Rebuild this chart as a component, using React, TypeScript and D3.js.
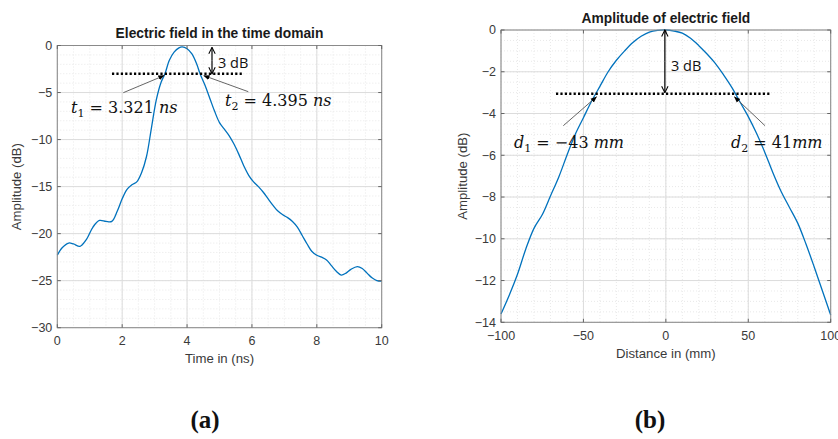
import React from 'react';
import * as d3 from 'd3';

// ---- Panel (a): electric field in the time domain ----
const timeNs = [0.0, 0.15, 0.35, 0.5, 0.7, 0.9, 1.1, 1.3, 1.5, 1.68, 1.85, 2.0, 2.15, 2.3, 2.45, 2.6, 2.75, 2.9, 3.05, 3.2, 3.32, 3.45, 3.6, 3.75, 3.85, 4.0, 4.15, 4.3, 4.4, 4.55, 4.7, 4.85, 5.0, 5.15, 5.3, 5.45, 5.6, 5.75, 5.9, 6.05, 6.2, 6.35, 6.5, 6.65, 6.8, 6.95, 7.1, 7.25, 7.4, 7.55, 7.7, 7.85, 8.0, 8.15, 8.3, 8.45, 8.6, 8.75, 8.9, 9.05, 9.25, 9.4, 9.55, 9.7, 9.85, 10.0];
const timeDb = [-22.3, -21.5, -21.0, -21.1, -21.35, -20.6, -19.3, -18.6, -18.7, -18.7, -17.6, -16.3, -15.3, -14.8, -14.5, -13.5, -11.8, -8.8, -5.8, -3.9, -3.0, -1.6, -0.7, -0.25, -0.15, -0.35, -0.9, -2.0, -3.0, -4.2, -5.6, -7.0, -8.2, -8.9, -9.6, -10.5, -11.6, -12.8, -13.8, -14.5, -15.0, -15.6, -16.3, -17.0, -17.6, -18.0, -18.3, -18.7, -19.3, -20.2, -21.1, -21.9, -22.3, -22.5, -22.8, -23.4, -24.0, -24.4, -24.2, -23.8, -23.5, -23.7, -24.2, -24.7, -25.0, -25.05];
const timeTicks = [0, 2, 4, 6, 8, 10];
const timeDbTicks = [0, -5, -10, -15, -20, -25, -30];
const t1 = 3.321;
const t2 = 4.395;

// ---- Panel (b): amplitude of electric field vs distance ----
const distMm = [-100, -95, -90, -85, -80, -75, -70, -65, -60, -55, -50, -45, -40, -35, -30, -25, -20, -15, -10, -5, 0, 5, 10, 15, 20, 25, 30, 35, 40, 45, 50, 55, 60, 65, 70, 75, 80, 85, 90, 95, 100];
const distDb = [-13.6, -12.7, -11.7, -10.5, -9.5, -8.85, -7.95, -7.05, -6.0, -5.0, -4.2, -3.4, -2.7, -2.0, -1.45, -1.0, -0.6, -0.3, -0.1, -0.02, 0, -0.05, -0.15, -0.4, -0.75, -1.15, -1.6, -2.15, -2.75, -3.45, -4.15, -4.95, -5.85, -6.85, -7.75, -8.5, -9.25, -10.25, -11.35, -12.5, -13.65];
const distTicks = [-100, -50, 0, 50, 100];
const distDbTicks = [0, -2, -4, -6, -8, -10, -12, -14];
const d1 = -43;
const d2 = 41;

const SANS = '"Liberation Sans", Arial, Helvetica, sans-serif';
const SERIF = '"DejaVu Serif", "Liberation Serif", serif';
const fmt = d3.format('');

type PanelProps = {
  box: [number, number, number, number];
  xDomain: [number, number];
  yDomain: [number, number];
  xTicks: number[];
  yTicks: number[];
  xMinor: number;
  yMinor: number;
  xs: number[];
  ys: number[];
  title: string;
  titleY: number;
  xLabel: string;
  xLabelY: number;
  yLabelX: number;
  tickLabelY: number;
  children?: (x: d3.ScaleLinear<number, number>, y: d3.ScaleLinear<number, number>) => React.ReactNode;
};

function Panel(p: PanelProps) {
  const [L, R, T, B] = p.box;
  const x = d3.scaleLinear().domain(p.xDomain).range([L, R]);
  const y = d3.scaleLinear().domain(p.yDomain).range([B, T]);
  const xMinorTicks = d3.range(p.xDomain[0], p.xDomain[1] + 1e-9, p.xMinor);
  const yMinorTicks = d3.range(p.yDomain[0], p.yDomain[1] + 1e-9, p.yMinor);
  const line = d3
    .line<number>()
    .x((_, i) => x(p.xs[i]))
    .y((d) => y(d))
    .curve(d3.curveCatmullRom.alpha(0.5));
  const tl = 3.5;
  return (
    <g>
      {xMinorTicks.map((v, i) => (
        <line key={'xm' + i} x1={x(v)} x2={x(v)} y1={T} y2={B} stroke="#e3e3e3" strokeWidth={0.8} strokeDasharray="1 2" />
      ))}
      {yMinorTicks.map((v, i) => (
        <line key={'ym' + i} x1={L} x2={R} y1={y(v)} y2={y(v)} stroke="#e3e3e3" strokeWidth={0.8} strokeDasharray="1 2" />
      ))}
      {p.xTicks.map((v) => (
        <line key={'xg' + v} x1={x(v)} x2={x(v)} y1={T} y2={B} stroke="#dcdcdc" strokeWidth={1} />
      ))}
      {p.yTicks.map((v) => (
        <line key={'yg' + v} x1={L} x2={R} y1={y(v)} y2={y(v)} stroke="#dcdcdc" strokeWidth={1} />
      ))}
      <path d={line(p.ys) || ''} fill="none" stroke="#0072BD" strokeWidth={1.3} />
      <rect x={L} y={T} width={R - L} height={B - T} fill="none" stroke="#8a8a8a" strokeWidth={1} />
      {p.xTicks.map((v) => (
        <g key={'xt' + v}>
          <line x1={x(v)} x2={x(v)} y1={B} y2={B - tl} stroke="#666" />
          <line x1={x(v)} x2={x(v)} y1={T} y2={T + tl} stroke="#666" />
          <text x={x(v)} y={p.tickLabelY} textAnchor="middle" fontFamily={SANS} fontSize={12.5} fill="#3a3a3a">
            {fmt(v)}
          </text>
        </g>
      ))}
      {p.yTicks.map((v) => (
        <g key={'yt' + v}>
          <line x1={L} x2={L + tl} y1={y(v)} y2={y(v)} stroke="#666" />
          <line x1={R} x2={R - tl} y1={y(v)} y2={y(v)} stroke="#666" />
          <text x={L - 5} y={y(v) + 4.3} textAnchor="end" fontFamily={SANS} fontSize={12.5} fill="#3a3a3a">
            {fmt(v)}
          </text>
        </g>
      ))}
      <text x={(L + R) / 2} y={p.titleY} textAnchor="middle" fontFamily={SANS} fontSize={13.8} fontWeight="bold" fill="#1a1a1a">
        {p.title}
      </text>
      <text x={(L + R) / 2} y={p.xLabelY} textAnchor="middle" fontFamily={SANS} fontSize={13.2} fill="#3a3a3a">
        {p.xLabel}
      </text>
      <text
        transform={`translate(${p.yLabelX},${(T + B) / 2}) rotate(-90)`}
        textAnchor="middle"
        fontFamily={SANS}
        fontSize={13.2}
        fill="#3a3a3a"
      >
        Amplitude (dB)
      </text>
      {p.children && p.children(x, y)}
    </g>
  );
}

function MathLabel({ x, y, v, sub, val, unit, gap }: { x: number; y: number; v: string; sub: string; val: string; unit: string; gap: boolean }) {
  return (
    <text x={x} y={y} fontFamily={SERIF} fontSize={16} fill="#111">
      <tspan fontStyle="italic">{v}</tspan>
      <tspan fontSize={11} dy={3.5}>{sub}</tspan>
      <tspan dy={-3.5}>{' = ' + val + (gap ? ' ' : '')}</tspan>
      <tspan fontStyle="italic">{unit}</tspan>
    </text>
  );
}

export default function App() {
  return (
    <svg
      width={838}
      height={439}
      viewBox="0 0 838 439"
      style={{ position: 'absolute', left: 0, top: 0, background: '#fff' }}
    >
      <defs>
        <marker id="fillArrow" viewBox="0 0 10 10" refX={9} refY={5} markerWidth={7} markerHeight={7} orient="auto">
          <path d="M0,1 L10,5 L0,9 z" fill="#000" />
        </marker>
        <marker id="openArrow" viewBox="0 0 10 10" refX={9} refY={5} markerWidth={8} markerHeight={8} orient="auto" markerUnits="userSpaceOnUse">
          <path d="M1,1 L9,5 L1,9" fill="none" stroke="#000" strokeWidth={1.3} />
        </marker>
      </defs>
      <rect x={0} y={0} width={838} height={439} fill="#fff" />

      <Panel
        box={[57.3, 381.7, 45.5, 327.7]}
        xDomain={[0, 10]}
        yDomain={[-30, 0]}
        xTicks={timeTicks}
        yTicks={timeDbTicks}
        xMinor={0.5}
        yMinor={1}
        xs={timeNs}
        ys={timeDb}
        title="Electric field in the time domain"
        titleY={38}
        xLabel="Time in (ns)"
        xLabelY={363}
        yLabelX={21}
        tickLabelY={345}
      >
        {(x, y) => (
          <g>
            <line x1={112} x2={244} y1={y(-3)} y2={y(-3)} stroke="#000" strokeWidth={2.6} strokeDasharray="2.2 2.2" />
            <line x1={212} x2={212} y1={y(-1.6)} y2={y(-0.2)} stroke="#000" strokeWidth={1.2} markerEnd="url(#openArrow)" />
            <line x1={212} x2={212} y1={y(-1.6)} y2={y(-3.0)} stroke="#000" strokeWidth={1.2} markerEnd="url(#openArrow)" />
            <text x={218} y={67.5} fontFamily='"Open Sans", "Liberation Sans", sans-serif' fontSize={14.5} fill="#111">3 dB</text>
            <line x1={123.3} y1={92.7} x2={x(t1) - 1} y2={y(-3.2)} stroke="#555" strokeWidth={0.9} markerEnd="url(#fillArrow)" />
            <line x1={248.3} y1={91.7} x2={x(t2) + 4} y2={y(-3.2)} stroke="#555" strokeWidth={0.9} markerEnd="url(#fillArrow)" />
            <MathLabel x={71} y={113} v="t" sub="1" val={String(t1)} unit="ns" gap={true} />
            <MathLabel x={225} y={106} v="t" sub="2" val={String(t2)} unit="ns" gap={true} />
          </g>
        )}
      </Panel>

      <Panel
        box={[501, 830.7, 30, 322.3]}
        xDomain={[-100, 100]}
        yDomain={[-14, 0]}
        xTicks={distTicks}
        yTicks={distDbTicks}
        xMinor={10}
        yMinor={0.5}
        xs={distMm}
        ys={distDb}
        title="Amplitude of electric field"
        titleY={23}
        xLabel="Distance in (mm)"
        xLabelY={358}
        yLabelX={467}
        tickLabelY={340}
      >
        {(x, y) => (
          <g>
            <line x1={556} x2={770} y1={y(-3.05)} y2={y(-3.05)} stroke="#000" strokeWidth={2.6} strokeDasharray="2.2 2.2" />
            <line x1={x(0) - 1} x2={x(0) - 1} y1={y(-1.5)} y2={y(0)} stroke="#000" strokeWidth={1.2} markerEnd="url(#openArrow)" />
            <line x1={x(0) - 1} x2={x(0) - 1} y1={y(-1.5)} y2={y(-3.0)} stroke="#000" strokeWidth={1.2} markerEnd="url(#openArrow)" />
            <text x={671} y={70.5} fontFamily='"Open Sans", "Liberation Sans", sans-serif' fontSize={14.5} fill="#111">3 dB</text>
            <line x1={563.3} y1={125.7} x2={x(d1) + 1.5} y2={y(-3.2)} stroke="#555" strokeWidth={0.9} markerEnd="url(#fillArrow)" />
            <line x1={765} y1={125.7} x2={x(d2) + 1} y2={y(-3.2)} stroke="#555" strokeWidth={0.9} markerEnd="url(#fillArrow)" />
            <MathLabel x={514} y={148} v="d" sub="1" val={'\u2212' + String(Math.abs(d1))} unit="mm" gap={true} />
            <MathLabel x={731} y={148} v="d" sub="2" val={String(d2)} unit="mm" gap={false} />
          </g>
        )}
      </Panel>

      <text x={205} y={428} textAnchor="middle" fontFamily='"Liberation Serif", serif' fontWeight="bold" fontSize={25} fill="#111">(a)</text>
      <text x={650} y={428} textAnchor="middle" fontFamily='"Liberation Serif", serif' fontWeight="bold" fontSize={25} fill="#111">(b)</text>
    </svg>
  );
}
